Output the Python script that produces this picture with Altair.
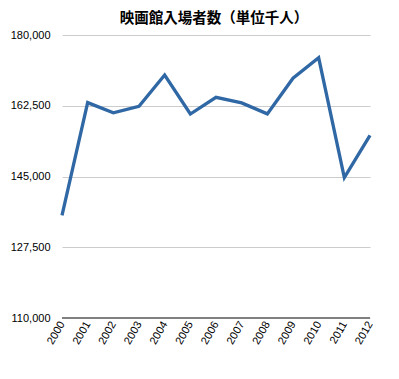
import altair as alt
import pandas as pd

title_text = "映画館入場者数（単位千人）"
years = ["2000", "2001", "2002", "2003", "2004", "2005", "2006",
         "2007", "2008", "2009", "2010", "2011", "2012"]
admissions = [135390, 163280, 160767, 162347, 170092, 160453, 164585,
              163193, 160491, 169297, 174358, 144726, 155159]
y_ticks = [110000, 127500, 145000, 162500, 180000]

df = pd.DataFrame({"year": years, "value": admissions})

base = alt.Chart(df)

line = base.mark_line(color="#2F68A4", strokeWidth=3.3, strokeJoin="miter").encode(
    x=alt.X("year:O", scale=alt.Scale(paddingOuter=0, padding=0), axis=alt.Axis(
        title=None, labelAngle=-60, labelAlign="right", labelBaseline="middle",
        labelFont="Liberation Sans", labelFontSize=11, labelColor="#000000",
        ticks=False, domain=False, grid=False, labelPadding=4)),
    y=alt.Y("value:Q", scale=alt.Scale(domain=[110000, 180000], nice=False, zero=False),
            axis=alt.Axis(title=None, values=y_ticks, format=",.0f", labelFont="Liberation Sans",
                          labelFontSize=11, labelColor="#000000", ticks=False, domain=False,
                          grid=True, gridColor="#CCCCCC", gridWidth=1.2, labelPadding=12)),
)

baseline = base.mark_rule(color="#808080", strokeWidth=1.5).encode(
    y=alt.datum(110000),
    x=alt.value(0),
    x2=alt.value(308),
)

title = alt.Chart(pd.DataFrame({"t": [title_text]})).mark_text(
    font="Noto Sans CJK JP", fontSize=14.5, fontWeight="bold", color="#000000",
    align="center", baseline="middle",
).encode(
    text="t:N",
    x=alt.value(152),
    y=alt.value(-16),
)

chart = alt.layer(line, baseline, title).properties(
    width=308,
    height=283,
    autosize=alt.AutoSizeParams(type="none"),
    padding={"left": 54, "top": 27, "right": 21, "bottom": 45},
).configure_view(stroke=None)

chart.save("out.html", embed_options={"renderer": "svg", "actions": False})
